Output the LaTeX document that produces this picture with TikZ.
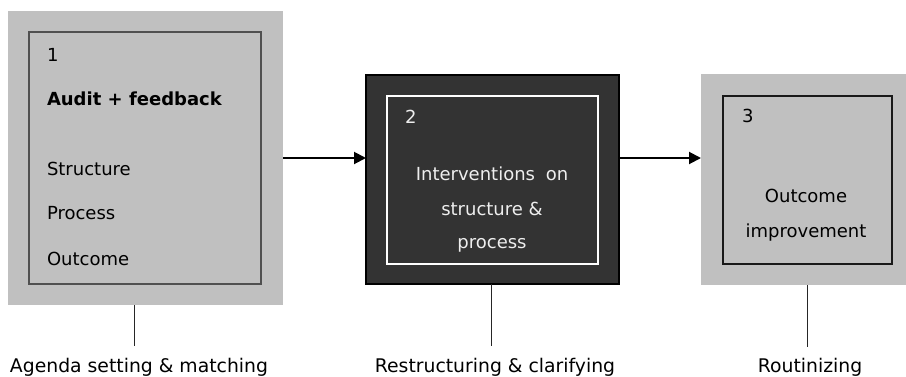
\documentclass[tikz,border=0pt]{standalone}
\usepackage{fontspec}
\setmainfont{DejaVu Sans}
\usetikzlibrary{arrows.meta}
\definecolor{lgray}{HTML}{C0C0C0}
\definecolor{dgray}{HTML}{333333}
\definecolor{bordergray}{HTML}{505050}
\definecolor{ltext}{HTML}{EEEEEE}
\begin{document}
\begin{tikzpicture}[x=1pt,y=-1pt,
  every node/.style={font=\fontsize{18}{22}\selectfont, inner sep=0pt, outer sep=0pt},
  txt/.style={anchor=base west},
  ctxt/.style={anchor=base},
  btxt/.style={anchor=base, font=\fontsize{18.8}{22}\selectfont},
  flow/.style={line width=2pt, -{Triangle[length=12pt,width=12pt]}},
  tick/.style={line width=1pt, draw=black!85}
]
\useasboundingbox (0,0) rectangle (906,376);
% box 1
\node[fill=lgray, minimum width=275pt, minimum height=294pt] (b1) at (145.5,158) {};
\node[draw=bordergray, line width=1.8pt, minimum width=232pt, minimum height=252pt] (i1) at (145,158) {};
\node[txt] (n1) at (47,61) {1};
\node[txt] (t1) at (47,105.5) {\bfseries Audit + feedback};
\node[txt] (s1) at (47,175) {Structure};
\node[txt] (p1) at (47,219) {Process};
\node[txt] (o1) at (47,265) {Outcome};
% box 2
\node[fill=dgray, draw=black, line width=1.8pt, minimum width=253pt, minimum height=209pt] (b2) at (492.5,179.5) {};
\node[draw=white, line width=1.3pt, minimum width=211pt, minimum height=168pt] (i2) at (492.5,180) {};
\node[txt, text=ltext] (n2) at (405,123) {2};
\node[ctxt, text=ltext] (t2a) at (492,180) {Interventions\hspace{5pt} on};
\node[ctxt, text=ltext] (t2b) at (492,215) {structure \&};
\node[ctxt, text=ltext] (t2c) at (492,248) {process};
% box 3
\node[fill=lgray, minimum width=212pt, minimum height=211pt] (b3) at (807,179.5) {};
\node[draw=black!90, line width=1.8pt, minimum width=169pt, minimum height=168pt] (i3) at (807.5,180) {};
\node[txt] (n3) at (742,122.5) {3};
\node[ctxt] (t3a) at (806,202.5) {Outcome};
\node[ctxt] (t3b) at (806,237) {improvement};
% arrows
\draw[flow] (b1.east |- 0,158) -- (b2.west |- 0,158);
\draw[flow] (b2.east |- 0,158) -- (b3.west |- 0,158);
% bottom labels
\node[btxt] (l1) at (139,372) {Agenda setting \& matching};
\node[btxt] (l2) at (495,372) {Restructuring \& clarifying};
\node[btxt] (l3) at (810,372) {Routinizing};
\coordinate (e1) at (134,346);
\coordinate (e2) at (491,346);
\coordinate (e3) at (807,347);
\draw[tick] (b1.south -| e1) -- (e1);
\draw[tick] (b2.south -| e2) -- (e2);
\draw[tick] (b3.south -| e3) -- (e3);
\end{tikzpicture}
\end{document}
